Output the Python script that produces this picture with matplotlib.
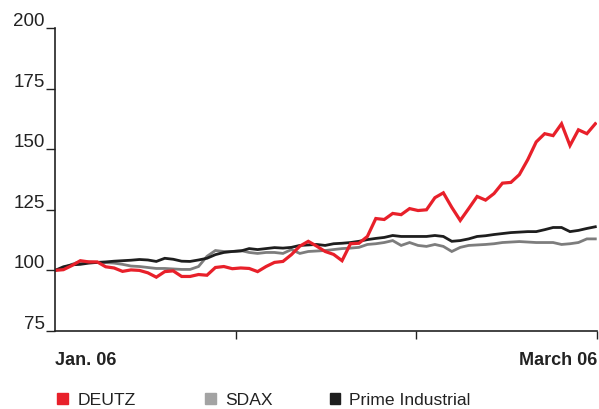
import matplotlib
matplotlib.use("Agg")
import matplotlib.pyplot as plt
from matplotlib.patches import Rectangle

plt.rcParams['font.family'] = ['Liberation Sans', 'DejaVu Sans']

series_names = ["DEUTZ", "SDAX", "Prime Industrial"]
deutz = [100, 100.3, 102, 104, 103.5, 103.5, 101.5, 101, 99.6, 100.2, 100, 99, 97.2, 99.5, 99.8,
         97.5, 97.5, 98.3, 98, 101.2, 101.6, 100.7, 101, 100.8, 99.5, 101.6, 103.3, 103.7, 106.5,
         110, 112, 110, 107.8, 106.6, 104, 111, 111.2, 114, 121.4, 121, 123.5, 123, 125.5, 124.7,
         125, 130, 132, 126, 120.6, 125.5, 130.5, 129, 131.7, 136, 136.3, 139.5, 145.7, 153, 156.4,
         155.6, 160.5, 151.5, 158, 156.4, 160.5]
sdax = [100, 101, 102.5, 103.7, 103.5, 103.3, 103.2, 103, 102.5, 101.8, 101.6, 101.2, 100.8, 100.8,
        100.6, 100.4, 100.4, 101.6, 105.8, 108.2, 107.8, 107.8, 108.2, 107.4, 107, 107.4, 107.4, 107,
        108.6, 107, 107.8, 108, 108.2, 108.6, 109, 109.2, 109.5, 110.7, 111, 111.5, 112.3, 110.3,
        111.5, 110.3, 109.9, 110.7, 109.9, 107.8, 109.5, 110.3, 110.5, 110.7, 111, 111.5, 111.7,
        111.9, 111.7, 111.5, 111.5, 111.5, 110.7, 111, 111.5, 113, 113]
prime = [100, 101.5, 102.3, 102.5, 103, 103.3, 103.5, 103.8, 104, 104.2, 104.5, 104.3, 103.7, 105,
         104.6, 103.8, 103.7, 104.3, 105, 106.5, 107.4, 107.8, 108, 109, 108.6, 109, 109.4, 109.2,
         109.5, 110.3, 110.5, 110.7, 110.3, 111, 111.2, 111.5, 112, 112.7, 113.2, 113.6, 114.4, 114,
         114, 114, 114, 114.4, 114, 112, 112.3, 113, 114, 114.3, 114.8, 115.2, 115.6, 115.8, 116, 116,
         116.8, 117.7, 117.7, 116, 116.5, 117.3, 118]
y_ticks = [75, 100, 125, 150, 175, 200]
x_start_label = "Jan. 06"
x_end_label = "March 06"

c_red = "#e8202a"
c_gray_line = "#7d7d7d"
c_gray_leg = "#a3a3a3"
c_black = "#1e1e1e"
c_text = "#222222"

fig = plt.figure(figsize=(5.99, 4.09), dpi=100)
ax = fig.add_axes([55/599, 1-331/409, (597-55)/599, (331-28)/409])

x = list(range(len(deutz)))
ax.plot(x, sdax, color=c_gray_line, lw=2.0, solid_joinstyle='miter')
ax.plot(x, prime, color=c_black, lw=2.0, solid_joinstyle='miter')
ax.plot(x, deutz, color=c_red, lw=2.3, solid_joinstyle='miter')

xmax = 64.2
ax.set_xlim(0, xmax)
ax.set_ylim(75, 200)
for s in ['top', 'right']:
    ax.spines[s].set_visible(False)
for s in ['left', 'bottom']:
    ax.spines[s].set_linewidth(1.2)
    ax.spines[s].set_color(c_text)

ax.set_yticks(y_ticks)
ax.set_yticklabels([])
ax.tick_params(axis='y', direction='out', length=6.5, width=1.0, colors=c_text)
for v in y_ticks:
    ax.annotate(str(v), xy=(0, v), xycoords=('axes fraction', 'data'),
                xytext=(-7.3, 1.4), textcoords='offset points',
                ha='right', va='baseline', fontsize=13.5, color=c_text)

ax.set_xticks([xmax/3, 2*xmax/3, xmax])
ax.set_xticklabels([])
ax.tick_params(axis='x', direction='out', length=6, width=1.0, colors=c_text)

ax.text(0, (331-365)/303, x_start_label, transform=ax.transAxes, ha='left', va='baseline',
        fontsize=13, fontweight='bold', color=c_text)
ax.text(1, (331-365)/303, x_end_label, transform=ax.transAxes, ha='right', va='baseline',
        fontsize=13, fontweight='bold', color=c_text)

# legend
leg_items = [(57, 77.5, series_names[0], c_red), (205, 225, series_names[1], c_gray_leg),
             (329.5, 349, series_names[2], c_black)]
for px, tx, name, col in leg_items:
    fig.patches.append(Rectangle((px/599, 1-403.8/409), 10.5/599, 10.5/409,
                                 transform=fig.transFigure, color=col))
    fig.text(tx/599, 1-404.8/409, name, ha='left', va='baseline', fontsize=12.6,
             color=c_text)

fig.savefig("out.png", dpi=100)
